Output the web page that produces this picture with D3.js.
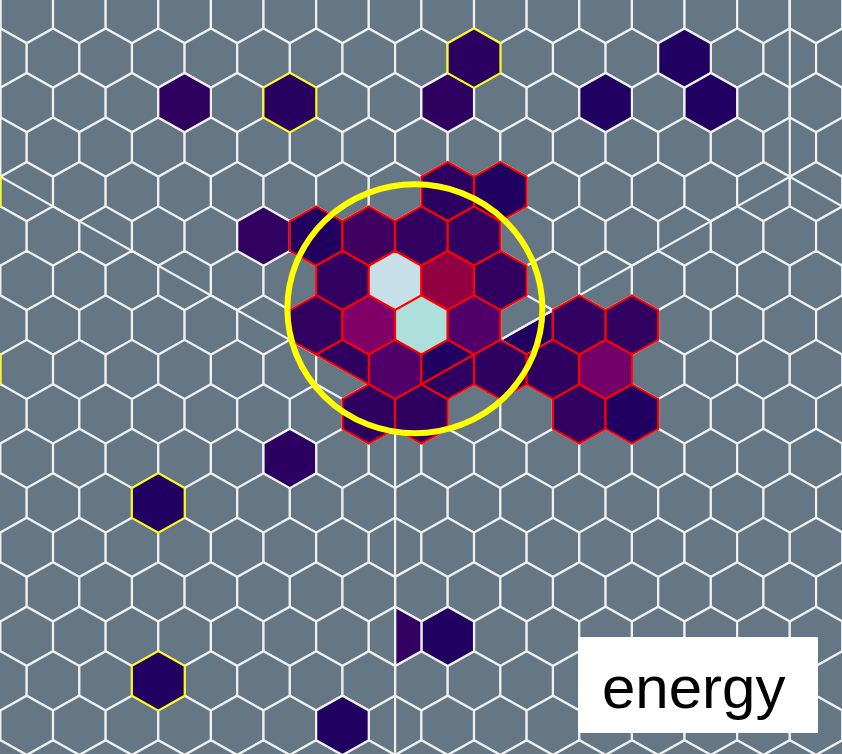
<!DOCTYPE html>
<html>
<head>
<meta charset="utf-8">
<script src="https://cdn.jsdelivr.net/npm/d3@7"></script>
<style>
  html, body { margin: 0; padding: 0; background: #657684; overflow: hidden; }
  svg { display: block; }
</style>
</head>
<body>
<div id="camera"></div>
<script>
const SQ3 = Math.sqrt(3);
const R = 1 / SQ3;   // hex corner radius, in units of pixel pitch

// pixels as [column, row, energy] on the offset hex grid
const plainPixels = [
    [-4, -6, 4], [1, -6, 4], [4, -6, 2], [5, -7, 2], [6, -6, 2],
    [-3, -3, 4.5], [-2, 2, 3.5], [1, 6, 2], [-1, 8, 2]
];
const islandPixels = [
    [1, -7, 3.5], [-2, -6, 3], [-5, 3, 2], [-5, 7, 2], [-8, -4, 2], [-8, 0, 2]
];
const cleanedPixels = [
    [1, -4, 3.5], [2, -4, 2],
    [-2, -3, 2], [-1, -3, 7], [0, -3, 4.5], [1, -3, 4.5],
    [-1, -2, 4.5], [0, -2, 40], [1, -2, 24], [2, -2, 4.5],
    [-2, -1, 4.5], [-1, -1, 18], [0, -1, 34], [1, -1, 11], [3, -1, 4.5], [4, -1, 4.5],
    [0, 0, 11], [2, 0, 4], [3, 0, 4], [4, 0, 16],
    [-1, 1, 4], [0, 1, 4], [3, 1, 4.5], [4, 1, 2]
];
// pixels cut in two by a module seam: [column, row, energy, half, mask]
const splitPixels = [
    [-1, 0, 4, "ne", "cleaned"],
    [1, 0, 2, "nw", "cleaned"],
    [1, 0, 4, "se", "cleaned"],
    [2, -1, 2, "se", "plain"],
    [0, 6, 4.5, "e", "plain"]
];

// module seams, camera coordinates (pitch units)
const seamJoints = { centre: [0, R], left: [-7.5, -6.5 * R], right: [7.5, -6.5 * R] };
const seams = [
    ["left", [0, R]], ["centre", [7.5, -6.5 * R]], ["centre", [0, 10]],
    ["right", [7.5, -10]], ["right", [10.5, -3.5 * R]],
    ["left", [-7.5, -10]], ["left", [-10.5, -3.5 * R]]
];

// fitted ellipse (here a circle in camera coords)
const ring = { x: 0.376, y: -1.182, r: 2.423 };

const energyStops = [2, 4, 7, 11, 18, 24, 34, 40];
const energyColors = ["#200060", "#2e0060", "#400060", "#500068", "#800068", "#920042", "#aee0db", "#c6dfe8"];

const width = 842, height = 754;
const gridExtent = d3.range(-10, 11);

const corners = [[0, -R], [0.5, -R / 2], [0.5, R / 2], [0, R], [-0.5, R / 2], [-0.5, -R / 2]];
const halves = {
    full: [0, 1, 2, 3, 4, 5],
    ne: [5, 0, 1, 2], sw: [2, 3, 4, 5],
    nw: [4, 5, 0, 1], se: [1, 2, 3, 4],
    e: [0, 1, 2, 3], w: [3, 4, 5, 0]
};
const edgeColor = { plain: "#f0f0f0", cleaned: "#ff0000", island: "#ffff00" };

const xScale = d3.scaleLinear().domain([-7.5, 8.5]).range([0.4, 842.4]);
const yScale = d3.scaleLinear().domain([-7.194, 7.486]).range([0, height]);
const colorScale = d3.scaleLinear().domain(energyStops).range(energyColors).clamp(true);

function camX(col, row) { return col + (Math.abs(row) % 2 ? 0.5 : 0); }
function camY(row) { return row * SQ3 / 2; }

function hexPath(col, row, half) {
    const cx = camX(col, row), cy = camY(row);
    const pts = halves[half].map((k) => [xScale(cx + corners[k][0]), yScale(cy + corners[k][1])]);
    return "M" + pts.map((p) => p.join(",")).join("L") + "Z";
}

const svg = d3.select("#camera")
    .append("svg")
        .attr("width", width)
        .attr("height", height);

svg.append("rect")
    .attr("width", width)
    .attr("height", height)
    .attr("fill", "#657684");

// empty camera grid
const grid = [];
gridExtent.forEach((row) => gridExtent.forEach((col) => grid.push([col, row])));

svg.append("g")
    .selectAll("path")
    .data(grid)
    .enter().append("path")
        .attr("d", (d) => hexPath(d[0], d[1], "full"))
        .attr("fill", "#657684")
        .attr("stroke", edgeColor.plain)
        .attr("stroke-width", 2.2)
        .attr("stroke-linejoin", "round");

function drawPixels(cls, data, mask, width) {
    svg.append("g")
        .attr("class", cls)
        .selectAll("path")
        .data(data)
        .enter().append("path")
            .attr("d", (d) => hexPath(d[0], d[1], d[3] || "full"))
            .attr("fill", (d) => colorScale(d[2]))
            .attr("stroke", (d) => edgeColor[d[4] || mask])
            .attr("stroke-width", width)
            .attr("stroke-linejoin", "round");
}

drawPixels("plain", plainPixels, "plain", 2.2);
drawPixels("plain-split", splitPixels.filter((d) => d[4] === "plain"), "plain", 2.2);

// seams between camera modules
svg.append("g")
    .selectAll("line")
    .data(seams)
    .enter().append("line")
        .attr("x1", (d) => xScale(seamJoints[d[0]][0]))
        .attr("y1", (d) => yScale(seamJoints[d[0]][1]))
        .attr("x2", (d) => xScale(d[1][0]))
        .attr("y2", (d) => yScale(d[1][1]))
        .attr("stroke", edgeColor.plain)
        .attr("stroke-width", 2.2);

drawPixels("cleaned", cleanedPixels, "cleaned", 2.1);
drawPixels("cleaned-split", splitPixels.filter((d) => d[4] === "cleaned"), "cleaned", 2.1);
drawPixels("island", islandPixels, "island", 1.9);

svg.append("ellipse")
    .attr("cx", xScale(ring.x))
    .attr("cy", yScale(ring.y))
    .attr("rx", xScale(ring.r) - xScale(0))
    .attr("ry", yScale(ring.r) - yScale(0))
    .attr("fill", "none")
    .attr("stroke", "#ffff00")
    .attr("stroke-width", 6);

// label
const label = svg.append("g").attr("transform", "translate(578,637)");
label.append("rect")
    .attr("width", 240)
    .attr("height", 96)
    .attr("fill", "#ffffff");
label.append("text")
    .attr("x", 24)
    .attr("y", 71)
    .style("font-family", "'Liberation Sans', Arial, sans-serif")
    .style("font-size", "60px")
    .attr("fill", "#000000")
    .text("energy");
</script>
</body>
</html>
